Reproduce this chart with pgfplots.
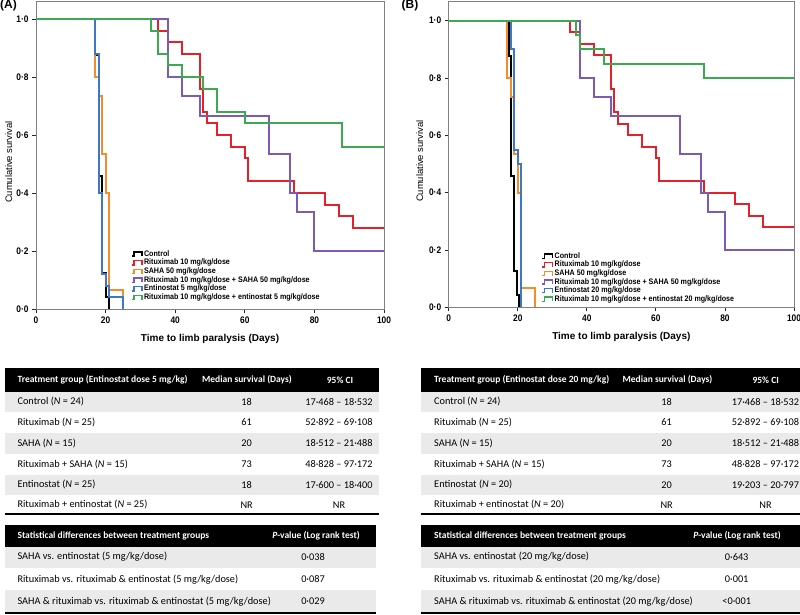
\documentclass[border=0pt]{standalone}
\usepackage{pgfplots}
\pgfplotsset{compat=1.18}
\usepackage{fontspec}
\setmainfont{Liberation Sans}
\newfontfamily\tickfont[FakeStretch=0.88]{Liberation Sans}
\newfontfamily\legfont[FakeStretch=0.89]{Liberation Sans}
\newfontfamily\tabfont{Carlito}
\definecolor{cred}{RGB}{230,32,40}
\definecolor{corange}{RGB}{245,140,40}
\definecolor{cpurple}{RGB}{125,90,180}
\definecolor{cblue}{RGB}{60,120,200}
\definecolor{cgreen}{RGB}{60,170,80}
\definecolor{rowgray}{RGB}{234,234,234}
\pgfplotsset{kmstyle/.style={
  scale only axis, xmin=0, xmax=100, ymin=0,
  xtick={0,20,40,60,80,100}, xticklabels={0,20,40,60,80,100},
  ytick={0,0.2,0.4,0.6,0.8,1.0}, yticklabels={0·0,0·2,0·4,0·6,0·8,1·0},
  tick align=outside, xtick pos=bottom, ytick pos=left, major tick length=4pt,
  tick style={black!85, line width=0.8pt},
  axis line style={black!50, line width=0.8pt},
  tick label style={font=\tickfont\bfseries\fontsize{9.5}{10}\selectfont},
  xlabel={Time to limb paralysis (Days)},
  ylabel={Cumulative survival},
  xlabel style={font=\bfseries\fontsize{10}{12}\selectfont, anchor=center},
  ylabel style={font=\fontsize{9.4}{11}\selectfont, anchor=center},
  legend cell align=left,
  legend image code/.code={\draw[##1, line width=1.4pt] (0pt,-2.2pt) -- (2pt,-2.2pt) -- (2pt,2pt) -- (10pt,2pt) -- (10pt,-2.2pt);},
  every axis plot/.append style={const plot, line width=2pt},
}}
\newcommand{\tf}{\tabfont\fontsize{10.3}{12}\selectfont}
\newcommand{\tfb}{\tabfont\fontsize{9.5}{11}\selectfont\bfseries}
\begin{document}
\begin{tikzpicture}
\useasboundingbox (0pt,0pt) rectangle (800pt,614pt);
% ---------------- Panel A ----------------
\begin{axis}[kmstyle, at={(36pt,305pt)}, anchor=south west, width=348pt, height=307.3pt, ymax=1.06,
  xlabel style={at={(rel axis cs:0.5,-0.0977)}},
  ylabel style={at={(rel axis cs:-0.078,0.478)}},
  legend style={draw=none, fill=none, inner sep=0pt, at={(rel axis cs:0.273,0.194)}, anchor=north west,
    row sep=0pt, column sep=1pt,
    nodes={inner sep=0.5pt, text height=6pt, text depth=1.7pt, font=\legfont\bfseries\fontsize{8}{9}\selectfont}}]
\addplot[black] coordinates {(0,1)(17,0.875)(18,0.4583)(19,0.125)(20,0.0417)(21,0)};
\addlegendentry{Control}
\addplot[cred] coordinates {(0,1)(35,0.96)(38,0.92)(42,0.88)(47,0.76)(48,0.68)(49,0.64)(52,0.60)(56,0.56)(60,0.52)(61,0.44)(74,0.40)(83,0.36)(87,0.32)(91,0.28)(100,0.28)};
\addlegendentry{Rituximab 10 mg/kg/dose}
\addplot[corange] coordinates {(0,1)(17,0.8)(18,0.7333)(19,0.5333)(20,0.4)(21,0.0667)(25,0)};
\addlegendentry{SAHA 50 mg/kg/dose}
\addplot[cpurple] coordinates {(0,1)(38,0.8)(42,0.7333)(47,0.6667)(67,0.5333)(73,0.4)(75,0.3333)(80,0.2)(100,0.2)};
\addlegendentry{Rituximab 10 mg/kg/dose + SAHA 50 mg/kg/dose}
\addplot[cblue] coordinates {(0,1)(17,0.88)(18,0.40)(19,0.12)(20,0.08)(21,0.04)(25,0)};
\addlegendentry{Entinostat 5 mg/kg/dose}
\addplot[cgreen] coordinates {(0,1)(33,0.96)(35,0.88)(38,0.84)(42,0.80)(48,0.76)(52,0.68)(60,0.64)(88,0.56)(100,0.56)};
\addlegendentry{Rituximab 10 mg/kg/dose + entinostat 5 mg/kg/dose}
\end{axis}
% ---------------- Panel B ----------------
\begin{axis}[kmstyle, at={(448.7pt,306.7pt)}, anchor=south west, width=345.3pt, height=305.6pt, ymax=1.066,
  xlabel style={at={(rel axis cs:0.5,-0.098)}},
  ylabel style={at={(rel axis cs:-0.084,0.478)}},
  legend style={draw=none, fill=none, inner sep=0pt, at={(rel axis cs:0.269,0.182)}, anchor=north west,
    row sep=0pt, column sep=1pt,
    nodes={inner sep=0.5pt, text height=6pt, text depth=1.6pt, font=\legfont\bfseries\fontsize{8}{9}\selectfont}}]
\addplot[black] coordinates {(0,1)(17.4,0.875)(18,0.4583)(19,0.125)(19.8,0.0417)(20.5,0)};
\addlegendentry{Control}
\addplot[cred] coordinates {(0,1)(35,0.96)(38,0.92)(42,0.88)(47,0.76)(48,0.68)(49,0.64)(52,0.60)(56,0.56)(60,0.52)(61,0.44)(74,0.40)(83,0.36)(87,0.32)(91,0.28)(100,0.28)};
\addlegendentry{Rituximab 10 mg/kg/dose}
\addplot[corange] coordinates {(0,1)(17,0.8)(18,0.7333)(19,0.5333)(20,0.4)(21,0.0667)(25,0)};
\addlegendentry{SAHA 50 mg/kg/dose}
\addplot[cpurple] coordinates {(0,1)(38,0.8)(42,0.7333)(47,0.6667)(67,0.5333)(73,0.4)(75,0.3333)(80,0.2)(100,0.2)};
\addlegendentry{Rituximab 10 mg/kg/dose + SAHA 50 mg/kg/dose}
\addplot[cblue] coordinates {(0,1)(18,0.9)(19,0.55)(20,0.5)(21,0)};
\addlegendentry{Entinostat 20 mg/kg/dose}
\addplot[cgreen] coordinates {(0,1)(37,0.95)(38,0.90)(45,0.85)(74,0.80)(100,0.80)};
\addlegendentry{Rituximab 10 mg/kg/dose + entinostat 20 mg/kg/dose}
\end{axis}
% ---------------- Labels and tables (pixel coordinates, y downward) ----------------
\begin{scope}[shift={(0pt,614pt)}, x=1pt, y=-1pt]
\node[font=\bfseries\fontsize{12}{13}\selectfont, anchor=center] at (8.5,5.5) {(A)};
\node[font=\bfseries\fontsize{12}{13}\selectfont, anchor=center] at (410,5.5) {(B)};
% Table A1
\fill[black] (5,367.7) rectangle (379,391.7);
\fill[rowgray] (5,391.7) rectangle (379,412);
\fill[rowgray] (5,432.5) rectangle (379,453.5);
\fill[rowgray] (5,474.5) rectangle (379,495);
\draw[line width=2pt] (5,514) -- (379,514);
\node[anchor=west, text=white, font=\tfb] at (14,380) {Treatment group (Entinostat dose 5 mg/kg)};
\node[text=white, font=\tfb] at (247,380) {Median survival (Days)};
\node[text=white, font=\tfb] at (340,380) {95\% CI};
\node[anchor=west, font=\tf] at (14,401.7) {Control (\textit{N} = 24)};
\node[anchor=west, font=\tf] at (14,422) {Rituximab (\textit{N} = 25)};
\node[anchor=west, font=\tf] at (14,443) {SAHA (\textit{N} = 15)};
\node[anchor=west, font=\tf] at (14,464) {Rituximab + SAHA (\textit{N} = 15)};
\node[anchor=west, font=\tf] at (14,484.7) {Entinostat (\textit{N} = 25)};
\node[anchor=west, font=\tf] at (14,504.7) {Rituximab + entinostat (\textit{N} = 25)};
\node[font=\tf] at (246.7,401.7) {18};
\node[font=\tf] at (246.7,422) {61};
\node[font=\tf] at (246.7,443) {20};
\node[font=\tf] at (246.7,464) {73};
\node[font=\tf] at (246.7,484.7) {18};
\node[font=\tf] at (246.7,504.7) {NR};
\node[font=\tf] at (339,401.7) {17·468 – 18·532};
\node[font=\tf] at (339,422) {52·892 – 69·108};
\node[font=\tf] at (339,443) {18·512 – 21·488};
\node[font=\tf] at (339,464) {48·828 – 97·172};
\node[font=\tf] at (339,484.7) {17·600 – 18·400};
\node[font=\tf] at (339,504.7) {NR};
% Table A2
\fill[black] (5,525) rectangle (376,546.7);
\fill[rowgray] (5,546.7) rectangle (376,568.3);
\fill[rowgray] (5,590.3) rectangle (376,612);
\draw[line width=2pt] (5,613) -- (376,613);
\node[anchor=west, text=white, font=\tfb] at (14,536) {Statistical differences between treatment groups};
\node[text=white, font=\tfb] at (316,536) {\textit{P}-value (Log rank test)};
\node[anchor=west, font=\tf] at (14,557) {SAHA vs. entinostat (5 mg/kg/dose)};
\node[anchor=west, font=\tf] at (14,579.3) {Rituximab vs. rituximab \& entinostat (5 mg/kg/dose)};
\node[anchor=west, font=\tf] at (14,601.5) {SAHA \& rituximab vs. rituximab \& entinostat (5 mg/kg/dose)};
\node[font=\tf] at (313,557) {0·038};
\node[font=\tf] at (313,579.3) {0·087};
\node[font=\tf] at (313,601.5) {0·029};
% Table B1
\fill[black] (420.7,367.7) rectangle (800,391.7);
\fill[rowgray] (420.7,391.7) rectangle (800,412);
\fill[rowgray] (420.7,432.5) rectangle (800,453.5);
\fill[rowgray] (420.7,474.5) rectangle (800,495);
\draw[line width=2pt] (420.7,514) -- (800,514);
\node[anchor=west, text=white, font=\tfb] at (430.7,380) {Treatment group (Entinostat dose 20 mg/kg)};
\node[text=white, font=\tfb] at (667.5,380) {Median survival (Days)};
\node[text=white, font=\tfb] at (765.7,380) {95\% CI};
\node[anchor=west, font=\tf] at (430.7,401.7) {Control (\textit{N} = 24)};
\node[anchor=west, font=\tf] at (430.7,422) {Rituximab (\textit{N} = 25)};
\node[anchor=west, font=\tf] at (430.7,443) {SAHA (\textit{N} = 15)};
\node[anchor=west, font=\tf] at (430.7,464) {Rituximab + SAHA (\textit{N} = 15)};
\node[anchor=west, font=\tf] at (430.7,484.7) {Entinostat (\textit{N} = 20)};
\node[anchor=west, font=\tf] at (430.7,504.7) {Rituximab + entinostat (\textit{N} = 20)};
\node[font=\tf] at (666.7,401.7) {18};
\node[font=\tf] at (666.7,422) {61};
\node[font=\tf] at (666.7,443) {20};
\node[font=\tf] at (666.7,464) {73};
\node[font=\tf] at (666.7,484.7) {20};
\node[font=\tf] at (666.7,504.7) {NR};
\node[font=\tf] at (765.5,401.7) {17·468 – 18·532};
\node[font=\tf] at (765.5,422) {52·892 – 69·108};
\node[font=\tf] at (765.5,443) {18·512 – 21·488};
\node[font=\tf] at (765.5,464) {48·828 – 97·172};
\node[font=\tf] at (765.5,484.7) {19·203 – 20·797};
\node[font=\tf] at (765.5,504.7) {NR};
% Table B2
\fill[black] (420.7,525) rectangle (800,546.7);
\fill[rowgray] (420.7,546.7) rectangle (800,568.3);
\fill[rowgray] (420.7,590.3) rectangle (800,612);
\draw[line width=2pt] (420.7,613) -- (800,613);
\node[anchor=west, text=white, font=\tfb] at (430.7,536) {Statistical differences between treatment groups};
\node[text=white, font=\tfb] at (737,536) {\textit{P}-value (Log rank test)};
\node[anchor=west, font=\tf] at (430.7,557) {SAHA vs. entinostat (20 mg/kg/dose)};
\node[anchor=west, font=\tf] at (430.7,579.3) {Rituximab vs. rituximab \& entinostat (20 mg/kg/dose)};
\node[anchor=west, font=\tf] at (430.7,601.5) {SAHA \& rituximab vs. rituximab \& entinostat (20 mg/kg/dose)};
\node[font=\tf] at (736.7,557) {0·643};
\node[font=\tf] at (736.7,579.3) {0·001};
\node[font=\tf] at (736.7,601.5) {<0·001};
\end{scope}
\end{tikzpicture}
\end{document}
